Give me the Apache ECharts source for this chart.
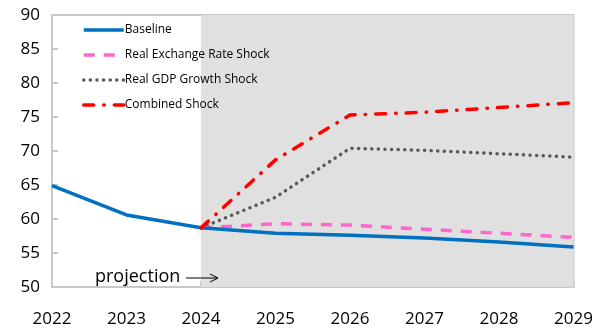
<!DOCTYPE html>
<html>
<head>
<meta charset="utf-8">
<script src="https://cdn.jsdelivr.net/npm/echarts@6/dist/echarts.min.js"></script>
<style>
  html, body { margin: 0; padding: 0; background: #fff; }
  #main { width: 596px; height: 329px; }
</style>
</head>
<body>
<div id="main"></div>
<script>
var years = ['2022', '2023', '2024', '2025', '2026', '2027', '2028', '2029'];
var baseline = [64.9, 60.6, 58.7, 57.9, 57.6, 57.2, 56.6, 55.9];
var rerShock = [null, null, 58.7, 59.3, 59.1, 58.5, 57.9, 57.3];
var gdpShock = [null, null, 58.7, 63.2, 70.4, 70.1, 69.6, 69.1];
var combinedShock = [null, null, 58.7, 68.7, 75.3, 75.7, 76.4, 77.1];

var font = 'Open Sans';
var chart = echarts.init(document.getElementById('main'));

var option = {
  backgroundColor: '#ffffff',
  animation: false,
  textStyle: { fontFamily: font },
  grid: {
    left: 52, right: 22, top: 15, bottom: 42,
    show: true, borderColor: '#c8c8c8', borderWidth: 2
  },
  legend: {
    orient: 'vertical',
    left: 77, top: 19,
    itemWidth: 40, itemHeight: 10,
    itemGap: 13,
    itemStyle: { opacity: 0, borderWidth: 0 },
    lineStyle: { width: 3.5 },
    textStyle: { fontSize: 12, color: '#000', fontFamily: font, padding: [0, 0, 0, -4] },
    data: ['Baseline', 'Real Exchange Rate Shock', 'Real GDP Growth Shock', 'Combined Shock']
  },
  xAxis: {
    type: 'category',
    data: years,
    boundaryGap: false,
    axisLine: { lineStyle: { color: '#c8c8c8', width: 2 } },
    axisTick: { inside: true, length: 6, lineStyle: { color: '#c8c8c8', width: 2 } },
    axisLabel: { color: '#000', fontSize: 17, margin: 24, fontFamily: font },
    splitLine: { show: false }
  },
  yAxis: {
    type: 'value',
    min: 50, max: 90, interval: 5,
    axisLine: { show: true, lineStyle: { color: '#c8c8c8', width: 2 } },
    axisTick: { show: true, inside: true, length: 6, lineStyle: { color: '#c8c8c8', width: 2 } },
    axisLabel: { color: '#000', fontSize: 17, margin: 12, fontFamily: font },
    splitLine: { show: false }
  },
  graphic: [
    {
      type: 'text', left: 95, top: 268, z: 100,
      style: { text: 'projection', fontSize: 18, fill: '#000', fontFamily: font }
    },
    {
      type: 'line', z: 100, shape: { x1: 186, y1: 278, x2: 218, y2: 278 },
      style: { stroke: '#000', lineWidth: 1 }
    },
    {
      type: 'polyline', z: 100, shape: { points: [[210, 274], [218, 278], [210, 282]] },
      style: { stroke: '#000', lineWidth: 1, fill: null }
    }
  ],
  series: [
    {
      name: 'Baseline', type: 'line', data: baseline, symbol: 'none',
      lineStyle: { color: '#0070c0', width: 3.5 }, itemStyle: { color: '#0070c0' },
      z: 5,
      markArea: {
        silent: true,
        itemStyle: { color: '#e0e0e0' },
        data: [[{ xAxis: '2024' }, { xAxis: '2029' }]]
      }
    },
    {
      name: 'Real Exchange Rate Shock', type: 'line', data: rerShock, symbol: 'none',
      lineStyle: { color: '#ff66cc', width: 3.5, type: [11, 9] }, itemStyle: { color: '#ff66cc' },
      z: 4
    },
    {
      name: 'Real GDP Growth Shock', type: 'line', data: gdpShock, symbol: 'none',
      lineStyle: { color: '#595959', width: 3.5, type: [0.1, 6.5], cap: 'round' }, itemStyle: { color: '#595959' },
      z: 3
    },
    {
      name: 'Combined Shock', type: 'line', data: combinedShock, symbol: 'none',
      lineStyle: { color: '#ff0000', width: 3.5, type: [10, 10, 0.5, 10], cap: 'round' }, itemStyle: { color: '#ff0000' },
      z: 6
    }
  ]
};
chart.setOption(option);
</script>
</body>
</html>
